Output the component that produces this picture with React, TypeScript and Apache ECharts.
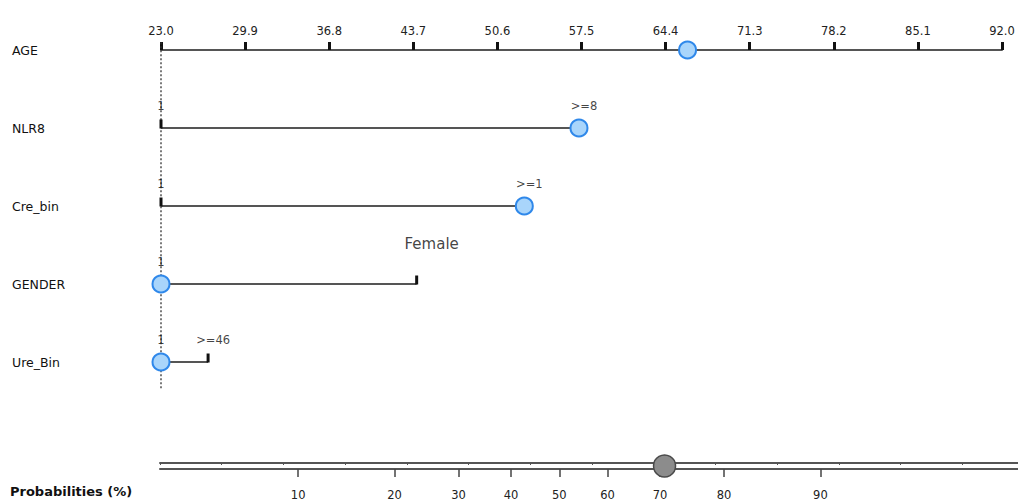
import React, { useEffect, useRef } from "react";
import * as echarts from "echarts";

// Row labels, top to bottom
const rowNames = ["AGE", "NLR8", "Cre_bin", "GENDER", "Ure_Bin"];

// Continuous predictor: AGE axis ticks and the selected value
const ageTicks = [23.0, 29.9, 36.8, 43.7, 50.6, 57.5, 64.4, 71.3, 78.2, 85.1, 92.0];
const ageValue = 66.2;

// Factor predictors: level names and their points (0–100 scale, AGE 23 → 0, 92 → 100)
const nlr8Levels = ["1", ">=8"];
const nlr8Points = [0, 49.7];
const creLevels = ["1", ">=1"];
const crePoints = [0, 43.2];
const genderLevels = ["1", "Female"];
const genderPoints = [0, 30.4];
const ureLevels = ["1", ">=46"];
const urePoints = [0, 5.6];
const chosenLevels = [">=8", ">=1", "1", "1"];

// Total points ruler and probability scale
const totalPointsMax = 278;
const totalPointsStep = 20;
const probTicks = [10, 20, 30, 40, 50, 60, 70, 80, 90];
const probValue = 70.8;
const logitMin = -3.36;
const logitMax = 3.86;

const FONT = "DejaVu Sans";
const logit = (p: number) => Math.log(p / (100 - p));

export default function App() {
  const ref = useRef<HTMLDivElement>(null);

  useEffect(() => {
    if (!ref.current) return;
    const chart = echarts.init(ref.current, null, { renderer: "svg" });

    const factors = [
      { levels: nlr8Levels, points: nlr8Points },
      { levels: creLevels, points: crePoints },
      { levels: genderLevels, points: genderPoints },
      { levels: ureLevels, points: urePoints },
    ];

    const series: any[] = [];

    // Dotted reference line at zero points
    series.push({
      type: "line",
      xAxisIndex: 1,
      yAxisIndex: 0,
      data: [
        [0, -0.1],
        [0, 4.35],
      ],
      clip: false,
      symbol: "none",
      silent: true,
      z: 1,
      lineStyle: { type: [2, 2], color: "#333", width: 1.3 },
    });

    factors.forEach((f, i) => {
      const row = i + 1;
      const lo = Math.min(...f.points);
      const hi = Math.max(...f.points);
      // horizontal range of the factor
      series.push({
        type: "line",
        xAxisIndex: 1,
        yAxisIndex: 0,
        data: [
          [lo, row],
          [hi, row],
        ],
        symbol: "none",
        silent: true,
        z: 2,
        lineStyle: { color: "#555", width: 2 },
      });
      // level ticks
      series.push({
        type: "scatter",
        xAxisIndex: 1,
        yAxisIndex: 0,
        data: f.points.map((p) => [p, row]),
        symbol: "rect",
        symbolSize: [3, 9],
        symbolOffset: [0, -4],
        silent: true,
        z: 3,
        itemStyle: { color: "#111", opacity: 1 },
      });
      // level labels
      series.push({
        type: "scatter",
        xAxisIndex: 1,
        yAxisIndex: 0,
        symbolSize: 1,
        silent: true,
        z: 4,
        itemStyle: { color: "transparent" },
        data: f.levels.map((name, k) => {
          const big = name === "Female";
          const ref0 = k === 0;
          return {
            value: [f.points[k], row],
            label: {
              show: true,
              position: "top",
              formatter: name,
              fontFamily: FONT,
              fontSize: big ? 15 : 11.5,
              color: "#111",
              distance: big ? 32 : 16,
              offset: [ref0 ? 0 : big ? 15 : 5, 0],
            },
          };
        }),
      });
    });

    const circleStyle = {
      color: "#a9d5fb",
      borderColor: "#2f88ea",
      borderWidth: 2,
      opacity: 1,
    };

    // selected AGE value
    series.push({
      type: "scatter",
      xAxisIndex: 0,
      yAxisIndex: 0,
      data: [[ageValue, 0]],
      symbolSize: 17,
      silent: true,
      z: 10,
      itemStyle: circleStyle,
    });

    // selected factor levels
    series.push({
      type: "scatter",
      xAxisIndex: 1,
      yAxisIndex: 0,
      data: factors.map((f, i) => [f.points[f.levels.indexOf(chosenLevels[i])], i + 1]),
      symbolSize: 17,
      silent: true,
      z: 10,
      itemStyle: circleStyle,
    });

    // predicted probability
    series.push({
      type: "scatter",
      xAxisIndex: 3,
      yAxisIndex: 1,
      data: [[logit(probValue), 0.5]],
      symbolSize: 22,
      silent: true,
      z: 10,
      itemStyle: { color: "#8c8c8c", borderColor: "#4a4a4a", borderWidth: 1.5, opacity: 1 },
    });

    const option: any = {
      animation: false,
      textStyle: { fontFamily: FONT },
      grid: [
        { left: 161, right: 16, top: 50, height: 312 },
        { left: 160, right: 0, top: 463, height: 6 },
      ],
      xAxis: [
        {
          gridIndex: 0,
          type: "value",
          position: "top",
          min: 23,
          max: 92,
          axisLine: { show: true, onZero: false, lineStyle: { color: "#555", width: 2 } },
          axisTick: {
            show: true,
            length: 8,
            lineStyle: { color: "#111", width: 3 },
            customValues: ageTicks,
          },
          axisLabel: {
            show: true,
            margin: 13,
            fontSize: 11.5,
            color: "#222",
            fontFamily: FONT,
            customValues: ageTicks,
            formatter: (v: number) => v.toFixed(1),
          },
          splitLine: { show: false },
        },
        {
          gridIndex: 0,
          type: "value",
          min: 0,
          max: 100,
          show: false,
        },
        {
          gridIndex: 1,
          type: "value",
          position: "top",
          min: 0,
          max: totalPointsMax,
          interval: totalPointsStep,
          axisLine: { show: true, onZero: false, lineStyle: { color: "#555", width: 2 } },
          axisTick: { show: true, inside: true, length: 2, lineStyle: { color: "#555", width: 1 } },
          axisLabel: { show: false },
          splitLine: { show: false },
        },
        {
          gridIndex: 1,
          type: "value",
          position: "bottom",
          min: logitMin,
          max: logitMax,
          axisLine: { show: true, onZero: false, lineStyle: { color: "#555", width: 2 } },
          axisTick: {
            show: true,
            length: 8,
            lineStyle: { color: "#444", width: 1.5 },
            customValues: probTicks.map(logit),
          },
          axisLabel: {
            show: true,
            margin: 20,
            fontSize: 11.5,
            color: "#222",
            fontFamily: FONT,
            customValues: probTicks.map(logit),
            formatter: (v: number) => String(Math.round(100 / (1 + Math.exp(-v)))),
          },
          splitLine: { show: false },
        },
      ],
      yAxis: [
        {
          gridIndex: 0,
          type: "value",
          min: 0,
          max: 4,
          interval: 1,
          inverse: true,
          axisLine: { show: false },
          axisTick: { show: false },
          splitLine: { show: false },
          axisLabel: {
            show: true,
            align: "left",
            margin: 149,
            fontSize: 12.5,
            color: "#111",
            fontFamily: FONT,
            formatter: (v: number) => rowNames[v] ?? "",
          },
        },
        {
          gridIndex: 1,
          type: "value",
          min: 0,
          max: 1,
          show: false,
        },
      ],
      graphic: [
        {
          type: "text",
          left: 10,
          top: 485,
          style: {
            text: "Probabilities (%)",
            font: `bold 13px '${FONT}'`,
            fill: "#111",
          },
        },
      ],
      series,
    };

    chart.setOption(option);
    return () => chart.dispose();
  }, []);

  return (
    <div
      ref={ref}
      style={{ position: "absolute", left: 0, top: 0, width: 1018, height: 504, background: "#fff" }}
    />
  );
}
